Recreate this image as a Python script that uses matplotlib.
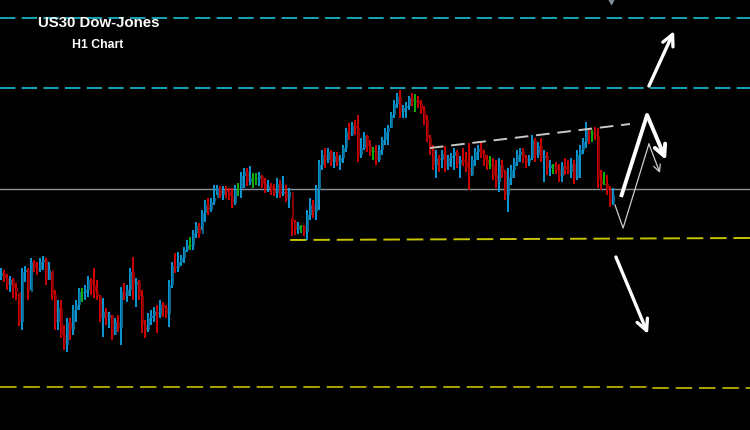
import numpy as np
import matplotlib
matplotlib.use('Agg')
import matplotlib.pyplot as plt

# ── DATA (levels, screen units: smaller = higher price) ────
first_open = 276
highs = [268, 270, 274, 276, 278, 283, 294, 268, 266, 268,
         258, 260, 262, 258, 256, 258, 262, 272, 290, 300,
         300, 325, 318, 318, 305, 300, 288, 288, 285, 276,
         278, 268, 280, 295, 298, 308, 312, 315, 318, 315,
         287, 283, 285, 268, 257, 278, 280, 290, 320, 313,
         310, 307, 305, 300, 302, 305, 280, 262, 253, 252,
         255, 247, 240, 237, 230, 222, 223, 210, 200, 198,
         198, 185, 185, 186, 186, 186, 188, 188, 185, 183,
         172, 168, 168, 166, 173, 173, 172, 175, 178, 180,
         183, 184, 178, 180, 176, 185, 188, 218, 220, 222,
         225, 225, 210, 198, 200, 185, 160, 150, 148, 148,
         150, 152, 152, 155, 145, 128, 123, 122, 120, 115,
         138, 132, 135, 140, 147, 145, 145, 137, 128, 125,
         112, 100, 93, 90, 105, 102, 96, 93, 94, 96,
         100, 106, 115, 135, 145, 150, 155, 150, 146, 155,
         153, 148, 150, 156, 148, 152, 143, 156, 148, 145,
         142, 150, 155, 156, 158, 160, 158, 160, 170, 168,
         165, 158, 150, 148, 148, 155, 155, 135, 138, 142,
         138, 150, 152, 160, 164, 162, 164, 162, 158, 160,
         158, 160, 150, 145, 138, 122, 128, 130, 127, 128,
         170, 172, 175, 186, 188]
lows = [280, 282, 290, 292, 298, 300, 326, 330, 282, 300,
        290, 272, 275, 272, 270, 285, 280, 300, 330, 330,
        338, 350, 352, 340, 335, 322, 310, 302, 300, 297,
        295, 298, 300, 322, 337, 325, 328, 340, 335, 332,
        345, 300, 302, 296, 300, 307, 300, 333, 338, 332,
        325, 322, 333, 318, 317, 318, 327, 288, 273, 272,
        266, 263, 252, 250, 250, 238, 238, 230, 222, 215,
        212, 205, 195, 198, 200, 198, 200, 208, 205, 196,
        198, 188, 186, 185, 188, 185, 186, 188, 193, 192,
        195, 196, 198, 198, 196, 202, 208, 236, 235, 234,
        233, 236, 240, 220, 218, 220, 210, 170, 168, 163,
        166, 168, 166, 170, 163, 152, 140, 136, 135, 162,
        158, 150, 152, 156, 160, 165, 162, 155, 145, 145,
        128, 118, 108, 118, 118, 118, 110, 106, 112, 108,
        114, 125, 142, 155, 170, 178, 172, 168, 172, 170,
        167, 170, 168, 178, 166, 172, 190, 176, 166, 160,
        158, 166, 170, 169, 180, 188, 192, 178, 200, 212,
        185, 178, 166, 162, 163, 168, 166, 160, 162, 158,
        162, 182, 175, 176, 174, 174, 182, 182, 175, 174,
        178, 184, 180, 178, 154, 148, 144, 142, 140, 188,
        190, 185, 195, 207, 205]
closes = [273, 278, 285, 280, 288, 292, 322, 272, 270, 292,
          262, 268, 270, 262, 260, 280, 270, 295, 322, 308,
          335, 345, 322, 330, 310, 305, 292, 293, 290, 280,
          285, 292, 296, 318, 312, 318, 315, 335, 322, 328,
          292, 296, 290, 272, 285, 282, 296, 325, 330, 318,
          316, 312, 315, 305, 308, 314, 285, 266, 268, 262,
          258, 250, 245, 246, 233, 226, 234, 213, 205, 210,
          202, 198, 188, 195, 190, 192, 196, 203, 190, 189,
          176, 172, 182, 178, 178, 179, 176, 184, 189, 186,
          190, 193, 184, 194, 192, 198, 192, 222, 230, 226,
          227, 232, 215, 205, 212, 190, 165, 155, 160, 152,
          162, 156, 162, 158, 148, 132, 134, 126, 128, 155,
          148, 136, 146, 152, 151, 160, 150, 140, 132, 128,
          115, 104, 97, 112, 108, 106, 98, 102, 101, 104,
          110, 120, 138, 150, 165, 158, 160, 154, 166, 158,
          156, 152, 164, 160, 162, 168, 175, 160, 152, 149,
          154, 160, 165, 165, 175, 182, 165, 172, 195, 178,
          170, 162, 155, 152, 158, 163, 158, 140, 155, 146,
          158, 156, 168, 165, 165, 170, 176, 166, 170, 172,
          164, 178, 155, 150, 142, 128, 133, 134, 136, 180,
          184, 184, 190, 203, 195]

# horizontal levels (screen units) and where they start, in bars
resistance_levels = [18, 88]
pivot_level = 189
support_bar = [96.2, 249.5]
support_level = [240, 238]
floor_bar = [-0.5, 215, 215, 249.5]
floor_level = [386.5, 386.5, 388, 388]
trend_bar = [142.8, 209.5]
trend_level = [148, 124]

# projected paths (bar, level)
up_path = ([215.8, 224.2], [86, 31])
zig_path = ([206.5, 215.2, 221.5], [197, 115, 160])
thin_path = ([204.5, 207.2, 215.8, 219.5], [205, 228, 144, 173])
down_path = ([204.8, 215.5], [257, 334])

# ── CHART ─────────────────────────────────────────────────────────────────────
BLUE, BLUE_DK = '#0BA3E6', '#0A6F99'
RED, RED_DK = '#E00000', '#8E0000'
GREEN = '#10C010'
DASH = (8.5, 3.5)

fig = plt.figure(figsize=(7.5, 4.3), dpi=100)
fig.patch.set_facecolor('black')
ax = fig.add_axes([0, 0, 1, 1])
ax.set_facecolor('black')
ax.set_xlim(-0.5, 249.5)
ax.set_ylim(430, 0)
ax.axis('off')

# levels
for lv in resistance_levels:
    ax.axhline(lv, color='#19B3C4', lw=1.3, dashes=DASH, zorder=1)
ax.axhline(pivot_level, color='#8A929A', lw=1.0, zorder=1)
ax.plot(support_bar, support_level, color='#C8C400', lw=1.4, dashes=DASH, zorder=1)
ax.plot(floor_bar, floor_level, color='#A8A400', lw=1.4, dashes=DASH, zorder=1)
ax.plot(trend_bar, trend_level, color='#C8C8C8', lw=1.4, dashes=(7, 4), zorder=5)

# candles
opens = [first_open] + closes[:-1]
x = np.arange(len(closes))
for i in x:
    o, c, h, l = opens[i], closes[i], highs[i], lows[i]
    if abs(c - o) <= 1:
        wick, body = GREEN, '#0A8A0A'
    elif c < o:
        wick, body = BLUE, BLUE_DK
    else:
        wick, body = RED, RED_DK
    ax.vlines(i - 0.2, h, l, color=wick, lw=1.3, zorder=3)
    top, bot = min(o, c), max(o, c)
    ax.vlines(i + 0.2, top, max(bot, top + 1), color=body, lw=1.3, zorder=3)

# projections
arr = dict(arrowstyle='->,head_length=0.8,head_width=0.4', color='white',
           lw=2.4, shrinkA=0, shrinkB=0)
ax.annotate('', xy=(up_path[0][1], up_path[1][1]),
            xytext=(up_path[0][0], up_path[1][0]), arrowprops=arr, zorder=6)
ax.annotate('', xy=(down_path[0][1], down_path[1][1]),
            xytext=(down_path[0][0], down_path[1][0]), arrowprops=arr, zorder=6)
ax.plot(zig_path[0][:2], zig_path[1][:2], color='white', lw=2.8,
        solid_capstyle='butt', zorder=6)
ax.annotate('', xy=(zig_path[0][2], zig_path[1][2]),
            xytext=(zig_path[0][1], zig_path[1][1]),
            arrowprops=dict(arr, lw=2.8), zorder=6)
ax.plot(thin_path[0][:3], thin_path[1][:3], color='#CFCFCF', lw=0.9, zorder=6)
thin_arr = dict(arrowstyle='->,head_length=0.5,head_width=0.25', color='#CFCFCF',
                lw=0.9, shrinkA=0, shrinkB=0)
ax.annotate('', xy=(thin_path[0][3], thin_path[1][3]),
            xytext=(thin_path[0][2], thin_path[1][2]), arrowprops=thin_arr, zorder=6)

# small marker at top edge
ax.plot([203.3], [1], marker='v', ms=5, color='#7F8C99', zorder=6)

ax.text(32.3, 23, 'US30 Dow-Jones', color='white', fontsize=10.8,
        fontweight='bold', ha='center', va='center', family='Liberation Sans')
ax.text(32.0, 45, 'H1 Chart', color='white', fontsize=8.8,
        fontweight='bold', ha='center', va='center', family='Liberation Sans')

fig.savefig('out.png', dpi=100, facecolor='black')
